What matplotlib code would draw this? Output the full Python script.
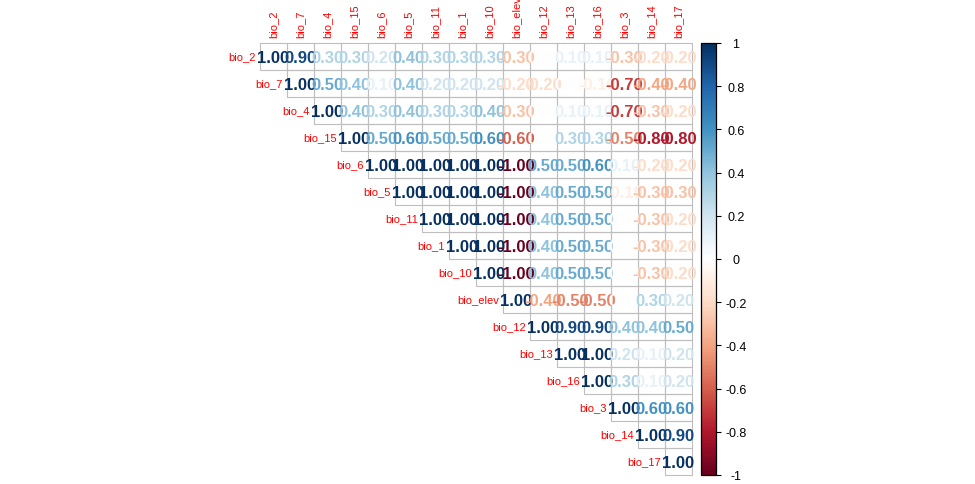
import numpy as np
import matplotlib
matplotlib.use("Agg")
import matplotlib.pyplot as plt
from matplotlib.colors import LinearSegmentedColormap, Normalize
from matplotlib.patches import Rectangle
from matplotlib.cm import ScalarMappable

plt.rcParams["font.family"] = ["Liberation Sans", "DejaVu Sans"]

# variable order as in the plot
labels = ["bio_2", "bio_7", "bio_4", "bio_15", "bio_6", "bio_5", "bio_11", "bio_1",
          "bio_10", "bio_elev", "bio_12", "bio_13", "bio_16", "bio_3", "bio_14", "bio_17"]

# upper triangle rows, starting at the diagonal
r_bio_2 = [1.00, 0.90, 0.30, 0.30, 0.20, 0.40, 0.30, 0.30, 0.30, -0.30, 0.00, 0.10, 0.10, -0.30, -0.20, -0.20]
r_bio_7 = [1.00, 0.50, 0.40, 0.10, 0.40, 0.20, 0.20, 0.20, -0.20, -0.20, 0.00, -0.10, -0.70, -0.40, -0.40]
r_bio_4 = [1.00, 0.40, 0.30, 0.40, 0.30, 0.30, 0.40, -0.30, 0.00, 0.10, 0.10, -0.70, -0.30, -0.20]
r_bio_15 = [1.00, 0.50, 0.60, 0.50, 0.50, 0.60, -0.60, 0.00, 0.30, 0.30, -0.50, -0.80, -0.80]
r_bio_6 = [1.00, 1.00, 1.00, 1.00, 1.00, -1.00, 0.50, 0.50, 0.60, 0.10, -0.20, -0.20]
r_bio_5 = [1.00, 1.00, 1.00, 1.00, -1.00, 0.40, 0.50, 0.50, -0.10, -0.30, -0.30]
r_bio_11 = [1.00, 1.00, 1.00, -1.00, 0.40, 0.50, 0.50, 0.00, -0.30, -0.20]
r_bio_1 = [1.00, 1.00, -1.00, 0.40, 0.50, 0.50, 0.00, -0.30, -0.20]
r_bio_10 = [1.00, -1.00, 0.40, 0.50, 0.50, 0.00, -0.30, -0.20]
r_bio_elev = [1.00, -0.40, -0.50, -0.50, 0.00, 0.30, 0.20]
r_bio_12 = [1.00, 0.90, 0.90, 0.40, 0.40, 0.50]
r_bio_13 = [1.00, 1.00, 0.20, 0.10, 0.20]
r_bio_16 = [1.00, 0.30, 0.10, 0.20]
r_bio_3 = [1.00, 0.60, 0.60]
r_bio_14 = [1.00, 0.90]
r_bio_17 = [1.00]

rows = [r_bio_2, r_bio_7, r_bio_4, r_bio_15, r_bio_6, r_bio_5, r_bio_11, r_bio_1,
        r_bio_10, r_bio_elev, r_bio_12, r_bio_13, r_bio_16, r_bio_3, r_bio_14, r_bio_17]

cbar_ticks = [-1, -0.8, -0.6, -0.4, -0.2, 0, 0.2, 0.4, 0.6, 0.8, 1]

# corrplot's RdBu palette
rdbu = ["#67001F", "#B2182B", "#D6604D", "#F4A582", "#FDDBC7", "#FFFFFF",
        "#D1E5F0", "#92C5DE", "#4393C3", "#2166AC", "#053061"]
cmap = LinearSegmentedColormap.from_list("corr", rdbu, N=200)
norm = Normalize(-1, 1)

W, H = 975, 485
fig = plt.figure(figsize=(W / 100, H / 100), dpi=100)

n = len(labels)
ax = fig.add_axes([260 / W, (H - 476) / H, 432 / W, 432 / H])
ax.set_xlim(0, n)
ax.set_ylim(n, 0)
ax.axis("off")

grid_col = "#BEBEBE"
for i, vals in enumerate(rows):
    for k, v in enumerate(vals):
        j = i + k
        ax.add_patch(Rectangle((j, i), 1, 1, facecolor="none", edgecolor=grid_col,
                               lw=0.8, clip_on=False))

for j in range(n):
    for i in range(j + 1):
        v = rows[i][j - i]
        ax.text(j + 0.5, i + 0.5, f"{v:.2f}", ha="center", va="center_baseline",
                fontsize=12, fontweight="bold", color=cmap(norm(v)), clip_on=False)

for i, lab in enumerate(labels):
    ax.text(i - 0.15, i + 0.5, lab, ha="right", va="center", fontsize=8,
            color="red", clip_on=False)
    ax.text(i + 0.5, -0.22, lab, ha="center", va="bottom", rotation=90,
            fontsize=8, color="red", clip_on=False)

cax = fig.add_axes([701 / W, (H - 476) / H, 15 / W, 432 / H])
sm = ScalarMappable(norm=norm, cmap=cmap)
cb = fig.colorbar(sm, cax=cax, ticks=cbar_ticks)
cb.outline.set_linewidth(0.9)
cb.outline.set_edgecolor("black")
cax.tick_params(length=3.6, width=0.8, labelsize=9, pad=10.8)
cb.set_ticklabels([f"{t:g}" for t in cbar_ticks])
for t in cax.get_yticklabels():
    t.set_horizontalalignment("center")

fig.savefig("out.png", dpi=100)
